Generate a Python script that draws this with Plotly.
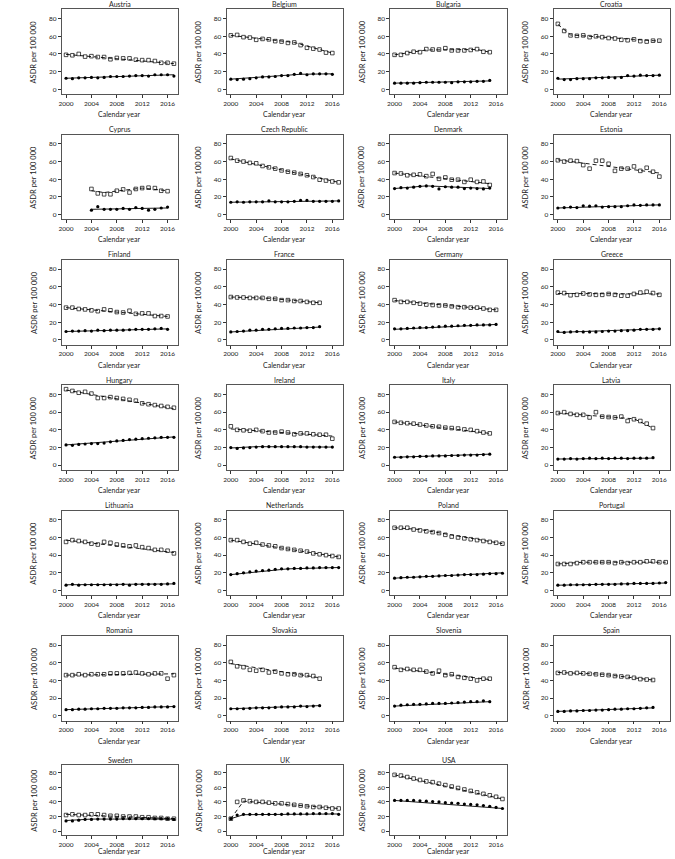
import plotly.graph_objects as go

countries = ["Austria", "Belgium", "Bulgaria", "Croatia",
             "Cyprus", "Czech Republic", "Denmark", "Estonia",
             "Finland", "France", "Germany", "Greece",
             "Hungary", "Ireland", "Italy", "Latvia",
             "Lithuania", "Netherlands", "Poland", "Portugal",
             "Romania", "Slovakia", "Slovenia", "Spain",
             "Sweden", "UK", "USA"]

start_years = [2000, 2000, 2000, 2000,
               2004, 2000, 2000, 2000,
               2000, 2000, 2000, 2000,
               2000, 2000, 2000, 2000,
               2000, 2000, 2000, 2000,
               2000, 2000, 2000, 2000,
               2000, 2000, 2000]

# open squares (observed), one list per country, consecutive years from start
square_values = [
    [39, 38.5, 40, 37, 37.5, 36.5, 36.5, 34, 35.5, 35, 35, 33.5, 33, 33, 32, 30, 30, 29],
    [61, 61.5, 59, 58.5, 56, 57, 56.5, 54.5, 54, 52.5, 53, 50, 47, 46, 45, 41.5, 41],
    [39, 39, 41, 42.5, 42, 45.5, 45, 45, 46.5, 44, 44, 44, 44.5, 45.5, 42.5, 42],
    [74, 66, 61, 60.5, 61, 59, 60, 59, 58, 57.5, 56, 55.5, 56.5, 54.5, 54, 55, 55],
    [29, 24, 23, 23, 27, 28.5, 25, 29, 30, 30.5, 30, 27, 26.5],
    [64, 61, 60, 58.5, 58, 55, 53.5, 52, 50, 48.5, 47.5, 46, 44.5, 42.5, 39.5, 38.5, 37.5, 36.5],
    [47, 46.5, 44.5, 45, 45.5, 43.5, 46, 40.5, 42, 39.5, 39.5, 37, 39.5, 37, 37.5, 33.5],
    [61.5, 60, 61, 60.5, 56, 52, 61, 61, 57.5, 49.5, 52, 52, 54.5, 49.5, 53, 48.5, 43],
    [36.5, 36.5, 35, 34.5, 33.5, 32.5, 34.5, 33.5, 31.5, 31, 33, 29.5, 30, 30, 27, 27, 26.5],
    [48.5, 48, 48, 47.5, 47.5, 47.5, 46.5, 46.5, 45, 45, 44, 44, 43, 42, 42],
    [45, 43, 43, 42, 41, 40, 39.5, 39, 39, 38, 37, 37, 36.5, 36.5, 35.5, 34, 34],
    [53.5, 53, 50.5, 51, 52.5, 51.5, 51, 51, 52, 51, 50, 50, 52, 53.5, 54.5, 53, 51],
    [86, 84, 82, 83, 81, 76, 76, 77, 76, 75, 74, 73, 70, 69, 68, 67, 66, 65],
    [44, 40, 39.5, 39, 40, 38.5, 37, 37, 38, 37, 35, 36, 36, 35, 34.5, 34.5, 30],
    [49, 48, 47.5, 47, 46, 45, 44, 43.5, 42.5, 42, 41.5, 40.5, 40, 38.5, 37, 36],
    [59, 60, 58, 57, 57, 54, 60, 55, 54.5, 54, 55, 50, 52, 50, 47, 42],
    [55, 57, 56, 55, 53, 52, 55, 54, 52, 51, 50, 51, 49, 48, 46, 46, 45, 42],
    [57, 57, 55, 53, 54, 52, 51, 50, 48, 47, 46, 45, 44, 42, 41, 40, 39, 38],
    [71, 71, 71, 69, 68, 67, 66, 65, 63, 61, 60, 59, 58, 57, 56, 55, 54, 53],
    [30, 30, 30, 31, 32, 32, 32, 32, 32, 31, 32, 31, 32, 32, 33, 33, 32, 32],
    [46, 46, 47, 46, 47, 47, 47, 48, 48, 48, 48.5, 49, 48, 47, 48, 48, 42, 46],
    [61, 56, 55, 52, 51, 52, 49, 50, 48, 47, 47, 46, 46, 45, 42],
    [55, 52, 53, 52, 52, 50, 48, 51, 46, 47, 44, 43, 42, 40, 42, 42],
    [48.5, 49, 48, 48.5, 48, 47.5, 47, 46.5, 46, 45, 44.5, 44, 43, 41.5, 41, 40.5],
    [22, 23, 22, 22, 23, 23, 22, 21, 21, 20, 20, 20, 19, 19, 18, 18, 17, 17],
    [17, 40, 42, 41, 40, 40, 39, 38, 38, 37, 36, 35, 34, 33, 33, 32, 31, 31],
    [77, 76, 74, 72, 70, 68, 67, 65, 63, 61, 59, 57, 55, 53, 51, 49, 47, 44],
]

# filled dots (observed)
dot_values = [
    [12.5, 12, 13, 13, 13.5, 13, 13.5, 14.5, 14.5, 14.5, 15, 15.5, 15.5, 15, 16.5, 16.5, 16.5, 15],
    [11.5, 11, 11.5, 12, 13, 14, 14, 14.5, 15.5, 15.5, 17, 18, 16.5, 17.5, 17.5, 17.5, 17],
    [7, 7, 7, 7, 7.5, 8, 8, 8, 8, 7.5, 8.5, 8.5, 8.5, 9, 9, 10],
    [12.5, 11, 11, 12, 12, 12, 13, 13, 13.5, 13, 13.5, 15.5, 15, 16, 15.5, 15.5, 16],
    [5, 9, 6, 6, 6, 7, 6, 8, 7, 5, 6, 7.5, 8.5],
    [14, 14.5, 14, 14.5, 14.5, 14.5, 15.5, 14.5, 14.5, 14.5, 15, 16, 16, 15, 15, 15, 15, 15.5],
    [29.5, 30.5, 30, 31, 32, 32.5, 32, 29, 31.5, 31, 31, 29.5, 30, 29.5, 29, 30],
    [7.5, 8, 8.5, 8, 10, 9.5, 10, 8.5, 9, 9, 9, 10, 11, 10.5, 11, 11, 11],
    [9.5, 10, 10, 10.5, 10, 11, 10.5, 11, 11, 11, 11.5, 12, 12, 12, 12.5, 13, 12],
    [9, 9.5, 10, 11, 11, 12, 12, 12.5, 13, 13, 13.5, 13.5, 14, 14, 15],
    [12.5, 12.5, 13, 13.5, 14, 14, 14.5, 15, 15.5, 15.5, 16, 16.5, 16.5, 17, 17, 17, 17.5],
    [9.5, 8.5, 9, 9.5, 9, 9, 9, 9.5, 10, 10, 10.5, 10.5, 11, 12, 12, 12, 12.5],
    [23, 22.5, 23.5, 24, 24.5, 24.5, 25, 26.5, 27.5, 28, 29, 29.5, 30, 30.5, 31, 31.5, 31.5, 31.5],
    [20, 19, 19.5, 20, 20.5, 21, 21, 21, 21, 21, 21, 21, 20.5, 20.5, 20.5, 20.5, 20.5],
    [9, 9, 9.5, 9.5, 10, 10, 10.5, 10.5, 10.5, 11, 11, 11.5, 11.5, 11.5, 12, 12.5],
    [7, 7, 7.5, 7, 7.5, 8, 7.5, 8, 7.5, 8, 8, 7.5, 8, 8, 8, 8.5],
    [6, 7, 6, 6.5, 6.5, 6.5, 6.5, 6.5, 6.5, 7, 6, 7, 7, 7, 7, 7, 7.5, 8],
    [18, 19, 20, 21, 22, 22.5, 23, 24, 24.5, 24.5, 25, 25, 25.5, 25.5, 26, 26, 26, 26],
    [14, 14.5, 15, 15, 15.5, 16, 16, 16.5, 17, 17, 17.5, 18, 18, 18, 18.5, 19, 19, 19.5],
    [6, 6, 6.5, 6.5, 6.5, 6.5, 7, 7, 7, 7, 7.5, 7.5, 8, 8, 8, 8, 8.5, 9],
    [7, 7, 7.5, 7.5, 8, 8, 8.5, 8.5, 8.5, 9, 9, 9, 9.5, 9.5, 10, 10, 10, 10.5],
    [8, 8, 8, 8.5, 9, 9, 9, 9.5, 10, 10, 10, 11, 10.5, 11, 11.5],
    [11, 12, 12.5, 13, 13, 13.5, 14, 14, 14, 14.5, 15, 15.5, 16, 16, 17, 16],
    [5, 5, 5.5, 5.5, 6, 6, 6.5, 6.5, 7, 7.5, 7.5, 8, 8, 8.5, 9, 9.5],
    [14, 14, 15, 16, 16, 16.5, 16.5, 16.5, 16.5, 17, 17, 17, 17, 17, 17, 17, 17, 16],
    [17, 22, 23, 23, 23, 23, 23, 23, 23, 23.5, 23.5, 23.5, 23.5, 24, 24, 24, 24, 23],
    [42, 42, 42, 42, 41.5, 41, 40.5, 40, 39, 38.5, 38, 37, 36.5, 36, 35, 34, 32.5, 31],
]

# fitted trend lines (joinpoints)
square_fit_years = [
    [2000, 2017], [2000, 2010, 2016], [2000, 2005, 2013, 2015], [2000, 2002, 2016],
    [2004, 2006, 2012, 2016], [2000, 2017], [2000, 2015], [2000, 2016],
    [2000, 2016], [2000, 2006, 2014], [2000, 2016], [2000, 2016],
    [2000, 2017], [2000, 2016], [2000, 2015], [2000, 2012, 2015],
    [2000, 2017], [2000, 2017], [2000, 2004, 2017], [2000, 2004, 2017],
    [2000, 2017], [2000, 2014], [2000, 2015], [2000, 2007, 2015],
    [2000, 2017], [2000, 2002, 2017], [2000, 2017],
]
square_fit_values = [
    [39.5, 29], [61, 53, 41], [39, 44.5, 45, 42], [73.5, 61.5, 54.5],
    [27, 25, 30, 27], [63, 36.5], [47, 35], [62, 47],
    [36.5, 26.5], [48.5, 47, 42], [44.5, 34], [52.5, 52],
    [85, 64], [41, 33], [49, 36], [59, 52.5, 42],
    [57, 43], [57, 38], [71, 69, 53], [30, 32, 32],
    [46, 47.5], [59, 43], [54, 41], [49, 47, 40.5],
    [23, 17], [17, 41, 31], [77, 44],
]
dot_fit_years = [
    [2000, 2017], [2000, 2011, 2016], [2000, 2015], [2000, 2016],
    [2004, 2016], [2000, 2017], [2000, 2005, 2015], [2000, 2016],
    [2000, 2016], [2000, 2014], [2000, 2016], [2000, 2016],
    [2000, 2017], [2000, 2004, 2016], [2000, 2015], [2000, 2015],
    [2000, 2017], [2000, 2009, 2017], [2000, 2017], [2000, 2017],
    [2000, 2017], [2000, 2014], [2000, 2015], [2000, 2015],
    [2000, 2004, 2017], [2000, 2002, 2017], [2000, 2017],
]
dot_fit_values = [
    [12.5, 16.5], [11.5, 17, 17.5], [7, 9.5], [11.5, 16],
    [6, 7.5], [14, 15.5], [29.5, 32.5, 29.5], [7.5, 11],
    [9.5, 12.5], [9, 14.5], [12, 17.5], [8.5, 12.5],
    [23, 32], [19.5, 21, 20.5], [9, 12.5], [7, 8],
    [6.5, 7.5], [18, 24.5, 26], [14, 20], [6, 8.5],
    [7, 10.5], [8, 11.5], [11, 16], [5, 9],
    [14.5, 16.5, 16.5], [17, 22.5, 23.5], [42, 31],
]

x_ticks = [2000, 2004, 2008, 2012, 2016]
y_ticks = [0, 20, 40, 60, 80]

W, H = 675, 859
col_left = [59, 224.5, 389, 553]
box_w = 117
row_tops = [9.3, 134.6, 259.9, 385.2, 510.5, 635.8, 765]
row_heights = [84.7, 84.7, 84.7, 84.7, 84.7, 84.7, 70]
xlabel_gap = [20, 20, 20, 20, 20, 20, 16]
FONT = "Lato"

fig = go.Figure()
annotations = []
layout_axes = {}

for i, name in enumerate(countries):
    r, c = divmod(i, 4)
    left = col_left[c]
    top = row_tops[r]
    box_h = row_heights[r]
    x0, x1 = left / W, (left + box_w) / W
    y1, y0 = 1 - top / H, 1 - (top + box_h) / H
    k = "" if i == 0 else str(i + 1)
    xa, ya = "x" + k, "y" + k
    yrs = [start_years[i] + j for j in range(len(square_values[i]))]
    fig.add_trace(go.Scatter(x=square_fit_years[i], y=square_fit_values[i], mode="lines",
                             line=dict(color="black", width=0.9, dash="4px,3px"),
                             xaxis=xa, yaxis=ya, showlegend=False, hoverinfo="skip"))
    fig.add_trace(go.Scatter(x=dot_fit_years[i], y=dot_fit_values[i], mode="lines",
                             line=dict(color="black", width=0.9),
                             xaxis=xa, yaxis=ya, showlegend=False, hoverinfo="skip"))
    fig.add_trace(go.Scatter(x=yrs, y=square_values[i], mode="markers",
                             marker=dict(symbol="square-open", size=3.6, color="black",
                                         line=dict(width=0.7, color="black")),
                             xaxis=xa, yaxis=ya, showlegend=False))
    fig.add_trace(go.Scatter(x=yrs, y=dot_values[i], mode="markers",
                             marker=dict(symbol="circle", size=3.2, color="black"),
                             xaxis=xa, yaxis=ya, showlegend=False))
    axis_common = dict(showline=True, mirror=True, linecolor="#555", linewidth=0.8,
                       ticks="outside", ticklen=3, tickwidth=0.8, tickcolor="#333",
                       showgrid=False, zeroline=False,
                       tickfont=dict(family=FONT, size=6.5, color="#222"))
    layout_axes["xaxis" + k] = dict(axis_common, domain=[x0, x1], anchor=ya,
                                    range=[1999.32, 2017.68], tickvals=x_ticks)
    layout_axes["yaxis" + k] = dict(axis_common, domain=[y0, y1], anchor=xa,
                                    range=[-5.3, 90.5], tickvals=y_ticks)
    cx = (left + box_w / 2) / W
    annotations.append(dict(text=name, x=cx, y=1 - (top - 5.5) / H, xref="paper", yref="paper",
                            showarrow=False, xanchor="center", yanchor="middle",
                            font=dict(family=FONT, size=7, color="#222")))
    annotations.append(dict(text="Calendar year", x=cx, y=1 - (top + box_h + xlabel_gap[r]) / H,
                            xref="paper", yref="paper", showarrow=False,
                            xanchor="center", yanchor="middle",
                            font=dict(family=FONT, size=7, color="#222")))
    annotations.append(dict(text="ASDR per 100 000", x=(left - 28) / W,
                            y=1 - (top + box_h / 2) / H, xref="paper", yref="paper",
                            showarrow=False, xanchor="center", yanchor="middle", textangle=-90,
                            font=dict(family=FONT, size=7.5, color="#222")))

fig.update_layout(width=W, height=H, margin=dict(l=0, r=0, t=0, b=0),
                  paper_bgcolor="white", plot_bgcolor="white",
                  annotations=annotations, **layout_axes)
fig.write_html("out.html", config={"displayModeBar": False},
               post_script="document.body.style.margin='0px';document.body.style.overflow='hidden';")
